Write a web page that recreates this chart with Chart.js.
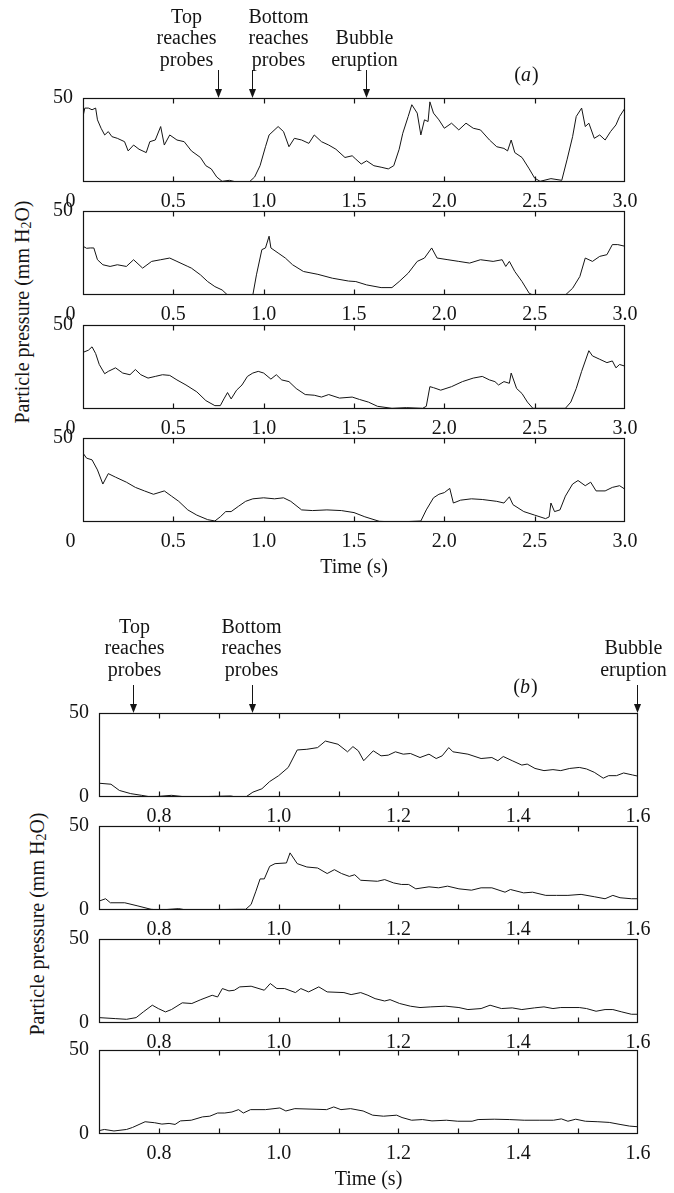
<!DOCTYPE html>
<html>
<head>
<meta charset="utf-8">
<script src="https://cdn.jsdelivr.net/npm/chart.js@4.4.0/dist/chart.umd.min.js"></script>
<style>
    html, body { margin: 0; padding: 0; background: #fff; }
    #page { position: relative; width: 674px; height: 1193px; overflow: hidden;
            font-family: "Liberation Serif", "Times New Roman", serif; color: #141414; }
    .plot { position: absolute; left: 0; width: 674px; }
    .ylab { position: absolute; font-size: 20px; white-space: nowrap;
            transform: translate(-50%, -50%) rotate(-90deg); }
    .ylab sub { font-size: 70%; vertical-align: -0.2em; }
</style>
</head>
<body>
<div id="page">
    <div class="ylab" style="left:23px; top:312px;">Particle pressure (mm H<sub>2</sub>O)</div>
    <div class="ylab" style="left:38px; top:924px;">Particle pressure (mm H<sub>2</sub>O)</div>
</div>

<script>
// ---- panel (a): 0 - 3 s ----
const aTickValues = [0, 0.5, 1.0, 1.5, 2.0, 2.5, 3.0];
const aTickLabels = ['0', '0.5', '1.0', '1.5', '2.0', '2.5', '3.0'];
const aEventTimes = [0.753, 0.94, 1.57];
const aEventLabels = [['Top', 'reaches', 'probes'], ['Bottom', 'reaches', 'probes'], ['Bubble', 'eruption']];

const a1Time = [0, 0.01, 0.03, 0.05, 0.07, 0.08, 0.10, 0.12, 0.14, 0.16, 0.19, 0.23, 0.25, 0.28, 0.31, 0.35, 0.37, 0.40, 0.43, 0.45, 0.48, 0.52, 0.56, 0.60, 0.65, 0.68, 0.71, 0.74, 0.77, 0.81, 0.85, 0.92, 0.95, 0.98, 1.01, 1.03, 1.08, 1.11, 1.14, 1.17, 1.21, 1.25, 1.28, 1.32, 1.36, 1.40, 1.45, 1.49, 1.51, 1.54, 1.57, 1.61, 1.65, 1.69, 1.72, 1.75, 1.77, 1.80, 1.82, 1.85, 1.87, 1.89, 1.91, 1.92, 1.94, 1.97, 2.00, 2.04, 2.08, 2.12, 2.16, 2.20, 2.25, 2.29, 2.33, 2.35, 2.37, 2.39, 2.43, 2.47, 2.50, 2.53, 2.59, 2.65, 2.68, 2.71, 2.73, 2.76, 2.78, 2.80, 2.83, 2.86, 2.89, 2.92, 2.95, 2.97, 3.00];
const a1Pressure = [39, 44, 44, 43, 44, 37, 32, 28, 30, 27, 26, 24, 18.5, 22, 19.5, 17.5, 24, 25, 33, 22, 28, 25, 24, 18.5, 14.6, 9.7, 7.8, 3, 0.4, 1, 0, 0, 3, 9.7, 21, 28, 33, 30, 21, 26, 25, 23, 28, 24, 22, 19.5, 14.6, 15.6, 13.6, 10.7, 12.6, 9.7, 8.8, 7.8, 9.7, 19.5, 29, 39, 46, 41, 28, 37, 36, 47.7, 41, 37, 32, 35, 31, 35, 32, 31, 25, 21, 20, 18.5, 25, 17.5, 14.6, 7.8, 2.3, 0.4, 2, 1, 13.6, 27, 39, 44, 33, 35, 26, 28, 25, 30, 34, 39, 44];

const a2Time = [0, 0.02, 0.04, 0.06, 0.08, 0.11, 0.15, 0.19, 0.24, 0.28, 0.33, 0.38, 0.43, 0.48, 0.52, 0.58, 0.60, 0.65, 0.69, 0.73, 0.77, 0.80, 0.94, 0.96, 0.99, 1.01, 1.03, 1.04, 1.08, 1.12, 1.16, 1.22, 1.30, 1.38, 1.47, 1.51, 1.57, 1.65, 1.71, 1.75, 1.80, 1.85, 1.89, 1.93, 1.96, 2.02, 2.08, 2.14, 2.20, 2.27, 2.32, 2.34, 2.36, 2.39, 2.43, 2.47, 2.49, 2.67, 2.71, 2.75, 2.78, 2.82, 2.86, 2.90, 2.93, 2.96, 3.00];
const a2Pressure = [29, 27.8, 28, 28, 21, 18, 17, 18, 17, 21, 16, 20, 21, 22, 20, 17, 16, 12, 8, 5, 3, 0, 0, 12, 27, 28, 35, 28, 25, 22, 18, 14, 12.3, 10, 8.3, 8, 6, 4.4, 4.4, 8, 13, 20, 22, 28, 22, 21, 20, 19, 21, 20, 21, 17, 20, 14, 8, 1, 0, 0, 4, 11, 22, 20, 23, 24, 30, 30, 29];

const a3Time = [0, 0.03, 0.05, 0.07, 0.09, 0.12, 0.14, 0.18, 0.22, 0.26, 0.29, 0.32, 0.36, 0.40, 0.44, 0.48, 0.52, 0.57, 0.63, 0.68, 0.73, 0.76, 0.78, 0.80, 0.82, 0.85, 0.88, 0.91, 0.94, 0.97, 1.00, 1.04, 1.07, 1.10, 1.14, 1.18, 1.23, 1.28, 1.32, 1.36, 1.42, 1.49, 1.53, 1.58, 1.63, 1.71, 1.79, 1.88, 1.90, 1.92, 1.94, 1.98, 2.04, 2.10, 2.16, 2.21, 2.25, 2.28, 2.30, 2.33, 2.36, 2.37, 2.40, 2.43, 2.46, 2.49, 2.67, 2.70, 2.73, 2.76, 2.80, 2.82, 2.86, 2.90, 2.93, 2.95, 2.97, 3.00];
const a3Pressure = [33.7, 35, 37, 33, 26.5, 21, 22.4, 24.5, 21.4, 20.4, 23.5, 20.4, 18.4, 19.4, 20.4, 20, 17.3, 14.3, 10.2, 5, 2, 2, 6, 9.8, 6, 11.2, 14.3, 19.4, 21.4, 22.4, 21.4, 17.8, 20.4, 17.3, 16.3, 12.2, 8.6, 8.2, 7.1, 8.6, 6.5, 7.1, 5.7, 4.1, 1.6, 0.4, 0.8, 0.4, 1.6, 13.3, 12.7, 11.2, 13.3, 16.3, 18.4, 19.4, 17.3, 16.3, 14.3, 16.3, 15.3, 21.4, 12.2, 9.2, 4.1, 0.4, 0.4, 4.1, 12.2, 22.4, 34.7, 31.6, 29.6, 27.6, 28.6, 24.5, 26.5, 25.5];

const a4Time = [0, 0.02, 0.05, 0.08, 0.11, 0.14, 0.18, 0.24, 0.29, 0.34, 0.39, 0.45, 0.49, 0.53, 0.58, 0.63, 0.69, 0.73, 0.76, 0.79, 0.82, 0.86, 0.90, 0.94, 1.00, 1.06, 1.11, 1.15, 1.21, 1.27, 1.35, 1.43, 1.50, 1.56, 1.64, 1.74, 1.87, 1.90, 1.94, 1.97, 2.00, 2.03, 2.05, 2.09, 2.15, 2.21, 2.29, 2.33, 2.36, 2.38, 2.44, 2.50, 2.56, 2.58, 2.59, 2.61, 2.64, 2.67, 2.71, 2.74, 2.78, 2.81, 2.84, 2.89, 2.93, 2.97, 3.00];
const a4Pressure = [41, 38, 37, 31, 22.6, 28.8, 26.7, 23.7, 20.6, 18.5, 16.5, 18.5, 15.4, 12.3, 7.2, 4.1, 1.4, 0.6, 3.1, 6.2, 6.2, 9.3, 12.3, 13.8, 14.4, 13.8, 14.4, 12.3, 7.2, 6.8, 7.2, 6.8, 5.6, 3.1, 0.4, 0, 0.6, 7.2, 14.4, 16.5, 17.5, 20, 11.3, 13, 13.8, 13.4, 12.3, 11.3, 15, 10.3, 6.2, 4.1, 2, 3, 11.3, 6.2, 7.2, 15.4, 22.6, 24.7, 21.6, 23.7, 18.5, 18.5, 20.6, 21.6, 19.5];

// ---- panel (b): 0.7 - 1.6 s ----
const bTickValues = [0.7, 0.8, 0.9, 1.0, 1.1, 1.2, 1.3, 1.4, 1.5, 1.6];
const bTickLabels = ['', '0.8', '', '1.0', '', '1.2', '', '1.4', '', '1.6'];
const bEventTimes = [0.758, 0.957, 1.6];
const bEventLabels = aEventLabels;

const b1Time = [0.700, 0.720, 0.734, 0.753, 0.771, 0.787, 0.821, 0.846, 0.920, 0.929, 0.945, 0.957, 0.972, 0.985, 1.000, 1.016, 1.031, 1.047, 1.065, 1.078, 1.099, 1.115, 1.124, 1.133, 1.142, 1.158, 1.171, 1.183, 1.195, 1.208, 1.220, 1.236, 1.251, 1.263, 1.273, 1.284, 1.291, 1.316, 1.338, 1.356, 1.366, 1.375, 1.390, 1.406, 1.415, 1.428, 1.443, 1.458, 1.471, 1.486, 1.502, 1.514, 1.527, 1.542, 1.551, 1.564, 1.576, 1.591, 1.600];
const b1Pressure = [8.2, 7.6, 3.9, 2.0, 1.0, 0, 1.0, 0, 0.6, 0, 0, 2.9, 4.9, 9.2, 12.7, 17.6, 28, 28.4, 29.4, 33.3, 31.4, 26.9, 30, 27.5, 21.6, 27.5, 24.5, 24.9, 26.9, 25.5, 25.9, 23.5, 25.5, 22.9, 24.5, 29.4, 26.9, 25.5, 22.9, 23.5, 21.6, 24.1, 21.6, 19, 19.6, 17, 15.7, 16.3, 15.7, 17, 17.6, 16.7, 14.7, 11.2, 12.7, 12.7, 14.3, 13.1, 12.4];

const b2Time = [0.700, 0.711, 0.719, 0.743, 0.765, 0.787, 0.802, 0.833, 0.846, 0.932, 0.945, 0.954, 0.962, 0.969, 0.976, 0.985, 0.994, 1.013, 1.019, 1.031, 1.047, 1.065, 1.081, 1.093, 1.105, 1.118, 1.127, 1.137, 1.165, 1.177, 1.192, 1.205, 1.217, 1.229, 1.251, 1.267, 1.282, 1.301, 1.322, 1.338, 1.356, 1.378, 1.387, 1.409, 1.424, 1.446, 1.464, 1.483, 1.505, 1.527, 1.545, 1.558, 1.570, 1.589, 1.600];
const b2Pressure = [5.3, 6.7, 4.3, 4.3, 2.4, 0.4, 0, 0.8, 0, 0.4, 0.4, 3.3, 11.2, 18.5, 18.5, 26, 27.6, 28, 34, 27.6, 25.6, 25, 21.7, 24, 21.7, 20, 21, 17.7, 17.1, 18.1, 16.1, 15.2, 15.2, 12.6, 13.8, 13.2, 14.2, 12.6, 11.8, 13.2, 13.2, 10.6, 12.2, 10.2, 10.6, 8.7, 8.7, 8.7, 9.3, 7.9, 6.7, 8.7, 7.3, 6.7, 6.7];

const b3Time = [0.700, 0.728, 0.746, 0.762, 0.774, 0.789, 0.799, 0.811, 0.821, 0.839, 0.855, 0.870, 0.889, 0.898, 0.906, 0.917, 0.926, 0.935, 0.954, 0.976, 0.986, 0.997, 1.010, 1.028, 1.037, 1.050, 1.067, 1.081, 1.109, 1.121, 1.137, 1.149, 1.161, 1.177, 1.186, 1.202, 1.220, 1.236, 1.254, 1.279, 1.301, 1.316, 1.338, 1.353, 1.372, 1.390, 1.406, 1.427, 1.443, 1.458, 1.471, 1.502, 1.514, 1.530, 1.545, 1.558, 1.573, 1.589, 1.600];
const b3Pressure = [3.2, 2.6, 2.2, 3.2, 6.6, 10.6, 8.6, 6.6, 8, 12, 11.6, 13.9, 16.5, 15.5, 20.5, 19.1, 19.5, 21.5, 21.9, 19.5, 23.5, 20.5, 20.5, 18.1, 20.5, 18.5, 21.5, 18.5, 18.1, 16.9, 18.1, 16.5, 14.5, 13.1, 13.9, 11.6, 10, 9.2, 9.6, 10, 9.2, 8, 8.6, 10.6, 8.6, 9, 8, 9, 9.6, 8.6, 9.2, 9.2, 8.6, 7, 8, 8, 6.6, 5.2, 5.2];

const b4Time = [0.700, 0.709, 0.725, 0.746, 0.756, 0.777, 0.793, 0.805, 0.817, 0.827, 0.836, 0.854, 0.873, 0.885, 0.898, 0.910, 0.922, 0.933, 0.941, 0.953, 0.978, 1.002, 1.012, 1.027, 1.064, 1.080, 1.092, 1.104, 1.120, 1.141, 1.157, 1.175, 1.197, 1.206, 1.222, 1.240, 1.256, 1.280, 1.299, 1.323, 1.333, 1.360, 1.385, 1.410, 1.435, 1.459, 1.472, 1.483, 1.496, 1.512, 1.533, 1.552, 1.570, 1.586, 1.600];
const b4Pressure = [2, 2.7, 1.8, 2.7, 3.9, 7.3, 6.7, 5.9, 6.3, 5.7, 7.8, 8.2, 10.2, 10.6, 12.5, 12.5, 13.1, 14.5, 12.5, 14.5, 14.5, 15.5, 13.7, 15.1, 14.7, 14.5, 16.1, 14.5, 15.1, 13.7, 11.2, 10.6, 11.2, 9.8, 8.2, 8.6, 7.8, 8.2, 7.6, 7.6, 8.6, 8.8, 8.6, 8.2, 8.2, 8.2, 9, 7.6, 8.8, 7.6, 7.3, 6.9, 5.7, 4.7, 4.3];

const FONT = '"Liberation Serif", "Times New Roman", serif';
const INK = '#141414';

// box round the plot area, with short ticks pointing inwards on top and bottom
const frame = {
    id: 'frame',
    afterDraw(chart) {
        const { ctx, chartArea: a, scales: { x } } = chart;
        const l = Math.round(a.left) + 0.5, r = Math.round(a.right) - 0.5;
        const t = Math.round(a.top) + 0.5, b = Math.round(a.bottom) - 0.5;
        ctx.save();
        ctx.strokeStyle = INK;
        ctx.lineWidth = 1.2;
        ctx.strokeRect(l, t, r - l, b - t);
        ctx.beginPath();
        x.ticks.forEach(tk => {
            if (tk.value <= x.min || tk.value >= x.max) return;
            const px = Math.round(x.getPixelForValue(tk.value)) + 0.5;
            ctx.moveTo(px, b); ctx.lineTo(px, b - 5);
            ctx.moveTo(px, t); ctx.lineTo(px, t + 5);
        });
        ctx.stroke();
        ctx.restore();
    }
};

// event arrows above the first plot of each panel
const events = {
    id: 'events',
    afterDraw(chart, args, o) {
        if (!o.times) return;
        const { ctx, chartArea: a, scales: { x } } = chart;
        const top = Math.round(a.top);
        ctx.save();
        ctx.fillStyle = INK;
        ctx.strokeStyle = INK;
        ctx.lineWidth = 1;
        ctx.font = '20px ' + FONT;
        ctx.textAlign = 'center';
        ctx.textBaseline = 'middle';
        o.times.forEach((tm, i) => {
            const px = Math.round(x.getPixelForValue(tm)) - 0.5;
            const lines = o.labels[i];
            lines.forEach((s, j) => {
                const row = o.rows.length - lines.length + j;
                ctx.fillText(s, px + o.dx[i], top + o.rows[row]);
            });
            ctx.beginPath();
            ctx.moveTo(px, top - o.arrow);
            ctx.lineTo(px, top - 8);
            ctx.stroke();
            ctx.beginPath();
            ctx.moveTo(px - 3.5, top - 9);
            ctx.lineTo(px + 3.5, top - 9);
            ctx.lineTo(px, top);
            ctx.closePath();
            ctx.fill();
        });
        // panel tag, e.g. (a) with an italic letter
        const up = '20px ' + FONT, it = 'italic 20px ' + FONT;
        ctx.textAlign = 'left';
        ctx.font = up;
        const wp = ctx.measureText('(').width, wc = ctx.measureText(')').width;
        ctx.font = it;
        const wl = ctx.measureText(o.tag).width;
        let cx = o.tagX - (wp + wl + wc) / 2;
        const cy = top + o.tagY;
        ctx.font = up; ctx.fillText('(', cx, cy); cx += wp;
        ctx.font = it; ctx.fillText(o.tag, cx, cy); cx += wl + 1;
        ctx.font = up; ctx.fillText(')', cx, cy);
        ctx.restore();
    }
};

const page = document.getElementById('page');

function makePlot(p) {
    const h = p.padTop + p.boxH + p.axisH;
    const div = document.createElement('div');
    div.className = 'plot';
    div.style.top = (p.boxTop - p.padTop) + 'px';
    div.style.height = h + 'px';
    const cv = document.createElement('canvas');
    cv.width = 674;
    cv.height = h;
    div.appendChild(cv);
    page.appendChild(div);

    new Chart(cv.getContext('2d'), {
        type: 'line',
        data: {
            datasets: [{
                data: p.time.map((t, i) => ({ x: t, y: p.values[i] })),
                borderColor: INK,
                borderWidth: 1,
                pointRadius: 0,
                tension: 0,
                fill: false,
            }]
        },
        options: {
            responsive: false,
            animation: false,
            events: [],
            layout: { padding: { top: p.padTop, left: 0, right: 674 - p.right, bottom: 0 } },
            plugins: {
                legend: { display: false },
                tooltip: { enabled: false },
                events: p.events || {},
            },
            scales: {
                x: {
                    type: 'linear',
                    min: p.ticks[0],
                    max: p.ticks[p.ticks.length - 1],
                    afterBuildTicks: s => { s.ticks = p.ticks.map(v => ({ value: v })); },
                    afterFit: s => { s.height = p.axisH; },
                    grid: { display: false },
                    border: { display: false },
                    ticks: {
                        autoSkip: false,
                        maxRotation: 0,
                        padding: 0,
                        color: INK,
                        font: { family: FONT, size: 20 },
                        // the 0 of panel (a) sits a little left of its tick
                        callback: (v, i) => (p.ticks[i] === 0 ? p.tickLabels[i] + '     ' : p.tickLabels[i]),
                    },
                    title: {
                        display: !!p.title,
                        text: p.title || '',
                        color: INK,
                        padding: 0,
                        font: { family: FONT, size: 20 },
                    },
                },
                y: {
                    min: 0,
                    max: 50,
                    afterBuildTicks: s => { s.ticks = [0, 50].map(v => ({ value: v })); },
                    afterFit: s => { s.width = p.left; },
                    grid: { display: false },
                    border: { display: false },
                    ticks: {
                        padding: 2,
                        color: INK,
                        font: { family: FONT, size: 20 },
                        callback: v => (v === 50 || p.zeroLabel ? String(v) : ''),
                    },
                },
            },
        },
        plugins: [frame, events],
    });
}

const aSeries = [[a1Time, a1Pressure], [a2Time, a2Pressure], [a3Time, a3Pressure], [a4Time, a4Pressure]];
const bSeries = [[b1Time, b1Pressure], [b2Time, b2Pressure], [b3Time, b3Pressure], [b4Time, b4Pressure]];
const aTops = [98, 211, 325, 438];
const bTops = [713, 826, 939, 1050];

aSeries.forEach(([t, v], i) => makePlot({
    time: t, values: v, ticks: aTickValues, tickLabels: aTickLabels,
    boxTop: aTops[i], boxH: 84, left: 83, right: 625,
    padTop: i === 0 ? 98 : 14, axisH: i === 3 ? 58 : 26,
    title: i === 3 ? 'Time (s)' : '', zeroLabel: false,
    events: i === 0 ? {
        times: aEventTimes, labels: aEventLabels, dx: [-32, 26, -2],
        rows: [-80, -59, -37], arrow: 28, tag: 'a', tagX: 526, tagY: -22,
    } : {},
}));

bSeries.forEach(([t, v], i) => makePlot({
    time: t, values: v, ticks: bTickValues, tickLabels: bTickLabels,
    boxTop: bTops[i], boxH: 84, left: 99, right: 638,
    padTop: i === 0 ? 113 : 14, axisH: i === 3 ? 58 : 26,
    title: i === 3 ? 'Time (s)' : '', zeroLabel: true,
    events: i === 0 ? {
        times: bEventTimes, labels: bEventLabels, dx: [1, -1, -4],
        rows: [-85, -64, -42], arrow: 28, tag: 'b', tagX: 525, tagY: -25,
    } : {},
}));
</script>
</body>
</html>
